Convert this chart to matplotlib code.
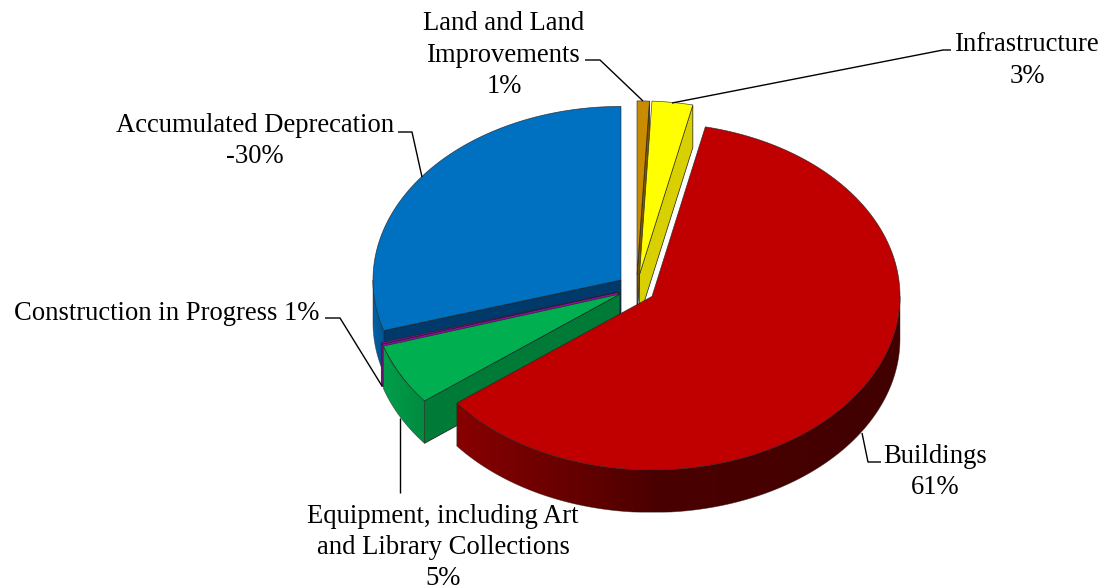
import numpy as np
import matplotlib
matplotlib.use("Agg")
import matplotlib.pyplot as plt
from matplotlib.patches import Polygon
from matplotlib.colors import LinearSegmentedColormap

plt.rcParams['font.family'] = ['Liberation Serif']

# --- data ---
categories = ["Land and Land\nImprovements\n1%", "Infrastructure\n3%", "Buildings\n61%",
              "Equipment, including Art\nand Library Collections\n5%",
              "Construction in Progress 1%", "Accumulated Deprecation\n-30%"]
shares = [0.8, 2.65, 61.0, 5.7, 0.15, 29.7]

# --- style ---
top_colors = ["#C98B00", "#FFFF00", "#C00000", "#00B050", "#8E0E9E", "#0070C0"]
cut_colors = ["#7A5400", "#D8D000", "#800000", "#007A37", "#8E0E9E", "#003A6B"]
wall_stops = [
    [(0, "#8F6300"), (1, "#8F6300")],
    [(0, "#D8D000"), (1, "#D8D000")],
    [(0, "#880000"), (0.33, "#5C0000"), (0.45, "#4A0000"), (1, "#420000")],
    [(0, "#009E4A"), (1, "#008A40")],
    [(0, "#8E0E9E"), (1, "#8E0E9E")],
    [(0, "#0062A8"), (1, "#00548F")],
]
centers = [(637, 274.5), (639.5, 274.5), (652, 296.4), (620, 294), (618.5, 292), (621, 280)]
RX, RY, DEPTH = 248.0, 173.6, 42.5
label_xy = [(504, 55), (1027, 60.5), (935, 472), (443, 547.5), (167, 313), (255, 141)]
leaders = [
    [(585, 60), (600, 60), (643, 101)],
    [(672, 103), (943, 50), (951, 50)],
    [(862, 433), (868, 462), (881, 462)],
    [(400, 418), (400, 493)],
    [(325, 318), (340, 318), (382, 386)],
    [(398, 132), (412, 132), (422, 177)],
]

fig = plt.figure(figsize=(11.04, 5.88), dpi=100)
ax = fig.add_axes([0, 0, 1, 1])
ax.axis('off')

edges = np.concatenate([[0], np.cumsum(shares)]) / np.sum(shares) * 2 * np.pi


def rim(c, a):
    return np.column_stack([c[0] + RX * np.sin(a), c[1] - RY * np.cos(a)])


def draw_slice(i, z):
    a0, a1 = edges[i], edges[i + 1]
    c = np.array(centers[i], dtype=float)
    a = np.linspace(a0, a1, max(int(np.degrees(a1 - a0)) * 2, 3))
    arc = rim(c, a)
    down = np.array([0, DEPTH])

    # radial cut faces, only those that face the viewer
    for ang, visible in ((a0, np.sin(a0) < -1e-6), (a1, np.sin(a1) > 1e-6)):
        if visible:
            p = rim(c, np.array([ang]))[0]
            ax.add_patch(Polygon([c, p, p + down, c + down], closed=True, fc=cut_colors[i],
                                 ec='#1a1a1a', lw=0.5, zorder=z))

    # outer wall, front half only, shaded left to right
    lo, hi = max(a0, np.pi / 2), min(a1, 3 * np.pi / 2)
    if hi > lo:
        w = np.linspace(lo, hi, int(np.degrees(hi - lo)) * 2 + 2)
        pts = rim(c, w)
        outline = np.vstack([pts, (pts + down)[::-1]])
        x0, x1 = outline[:, 0].min(), outline[:, 0].max()
        y0, y1 = outline[:, 1].min(), outline[:, 1].max()
        cmap = LinearSegmentedColormap.from_list('w', wall_stops[i])
        im = ax.imshow(np.linspace(0, 1, 256)[None, :], cmap=cmap, vmin=0, vmax=1,
                       extent=(x0, x1, y1, y0), aspect='auto', zorder=z + 0.1,
                       interpolation='bilinear')
        clip = Polygon(outline, closed=True, transform=ax.transData)
        im.set_clip_path(clip)
        ax.add_patch(Polygon(outline, closed=True, fill=False, ec='#30201a',
                             lw=0.5, alpha=0.6, zorder=z + 0.2))

    # top face
    ax.add_patch(Polygon(np.vstack([c, arc]), closed=True, fc=top_colors[i],
                         ec=(0.13, 0.13, 0.13, 0.8), lw=0.5, zorder=z + 0.3))


for z, i in enumerate([5, 4, 3, 0, 1, 2]):
    draw_slice(i, z + 1)

for text, (x, y) in zip(categories, label_xy):
    ax.text(x, y, text, ha='center', va='center', fontsize=19.2, color='black',
            linespacing=1.33, zorder=10)

for pts in leaders:
    p = np.array(pts)
    ax.plot(p[:, 0], p[:, 1], color='black', lw=1.0, zorder=9, solid_capstyle='butt')

ax.set_xlim(0, 1104)
ax.set_ylim(588, 0)
fig.savefig('out.png', dpi=100, facecolor='white')
